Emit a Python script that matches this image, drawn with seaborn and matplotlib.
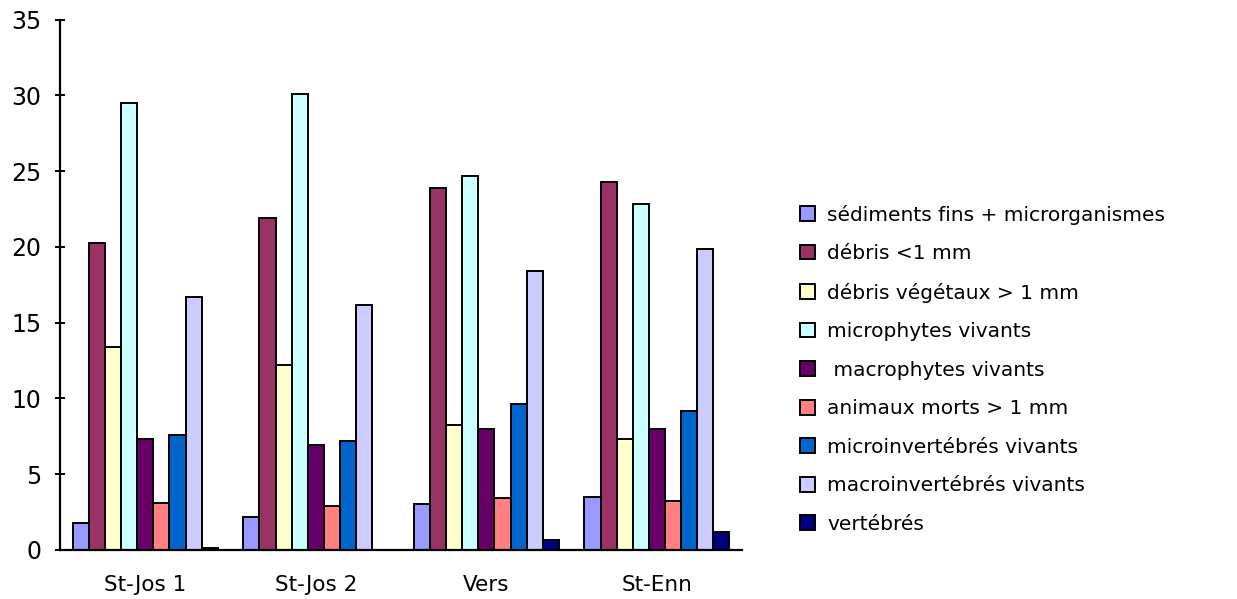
import pandas as pd
import matplotlib
matplotlib.use("Agg")
import matplotlib.pyplot as plt
import seaborn as sns

sites = ["St-Jos 1", "St-Jos 2", "Vers", "St-Enn"]
categories = [
    "sédiments fins + microrganismes",
    "débris <1 mm",
    "débris végétaux > 1 mm",
    "microphytes vivants",
    " macrophytes vivants",
    "animaux morts > 1 mm",
    "microinvertébrés vivants",
    "macroinvertébrés vivants",
    "vertébrés",
]
colors = ["#9999FF", "#993366", "#FFFFCC", "#CCFFFF", "#660066",
          "#FF8080", "#0066CC", "#CCCCFF", "#000080"]

# one list per site, in category order
st_jos_1 = [1.8, 20.25, 13.4, 29.5, 7.35, 3.1, 7.6, 16.7, 0.12]
st_jos_2 = [2.2, 21.9, 12.2, 30.1, 6.95, 2.9, 7.2, 16.2, 0.0]
vers = [3.0, 23.9, 8.25, 24.7, 8.0, 3.4, 9.6, 18.4, 0.65]
st_enn = [3.5, 24.3, 7.35, 22.85, 8.0, 3.25, 9.2, 19.85, 1.2]

rows = []
for site, vals in zip(sites, [st_jos_1, st_jos_2, vers, st_enn]):
    for cat, v in zip(categories, vals):
        rows.append({"site": site, "cat": cat, "val": v})
df = pd.DataFrame(rows)

sns.set_style("white")
plt.rcParams["font.family"] = ["DejaVu Sans"]
plt.rcParams["text.color"] = "black"
plt.rcParams["xtick.color"] = "black"
plt.rcParams["ytick.color"] = "black"

fig = plt.figure(figsize=(12.37, 5.99), dpi=100)
ax = fig.add_axes([0.0485, 0.082, 0.5515, 0.885])

sns.barplot(
    data=df, x="site", y="val", hue="cat",
    order=sites, hue_order=categories,
    palette=colors, saturation=1, edgecolor="black", linewidth=1.4,
    width=0.85, gap=0, ax=ax, legend=True,
)

ax.set_xlim(-0.5, 3.5)
ax.set_ylim(0, 35)
ax.set_yticks(range(0, 36, 5))
ax.set_xlabel("")
ax.set_ylabel("")
sns.despine(ax=ax)
for s in ["left", "bottom"]:
    ax.spines[s].set_linewidth(1.6)
    ax.spines[s].set_color("black")
ax.tick_params(axis="y", left=True, direction="inout", length=7, width=1.4,
               pad=10, labelsize=17)
ax.tick_params(axis="x", bottom=False, length=0, pad=18, labelsize=15.5)

handles, labels = ax.get_legend_handles_labels()
ax.legend_.remove()
fig.legend(
    handles, labels, loc="upper left", bbox_to_anchor=(0.64, 0.672),
    frameon=False, fontsize=14.5, handlelength=0.75, handleheight=0.75,
    handletextpad=0.6, labelspacing=0.97, borderaxespad=0,
)

fig.savefig("out.png", dpi=100)
